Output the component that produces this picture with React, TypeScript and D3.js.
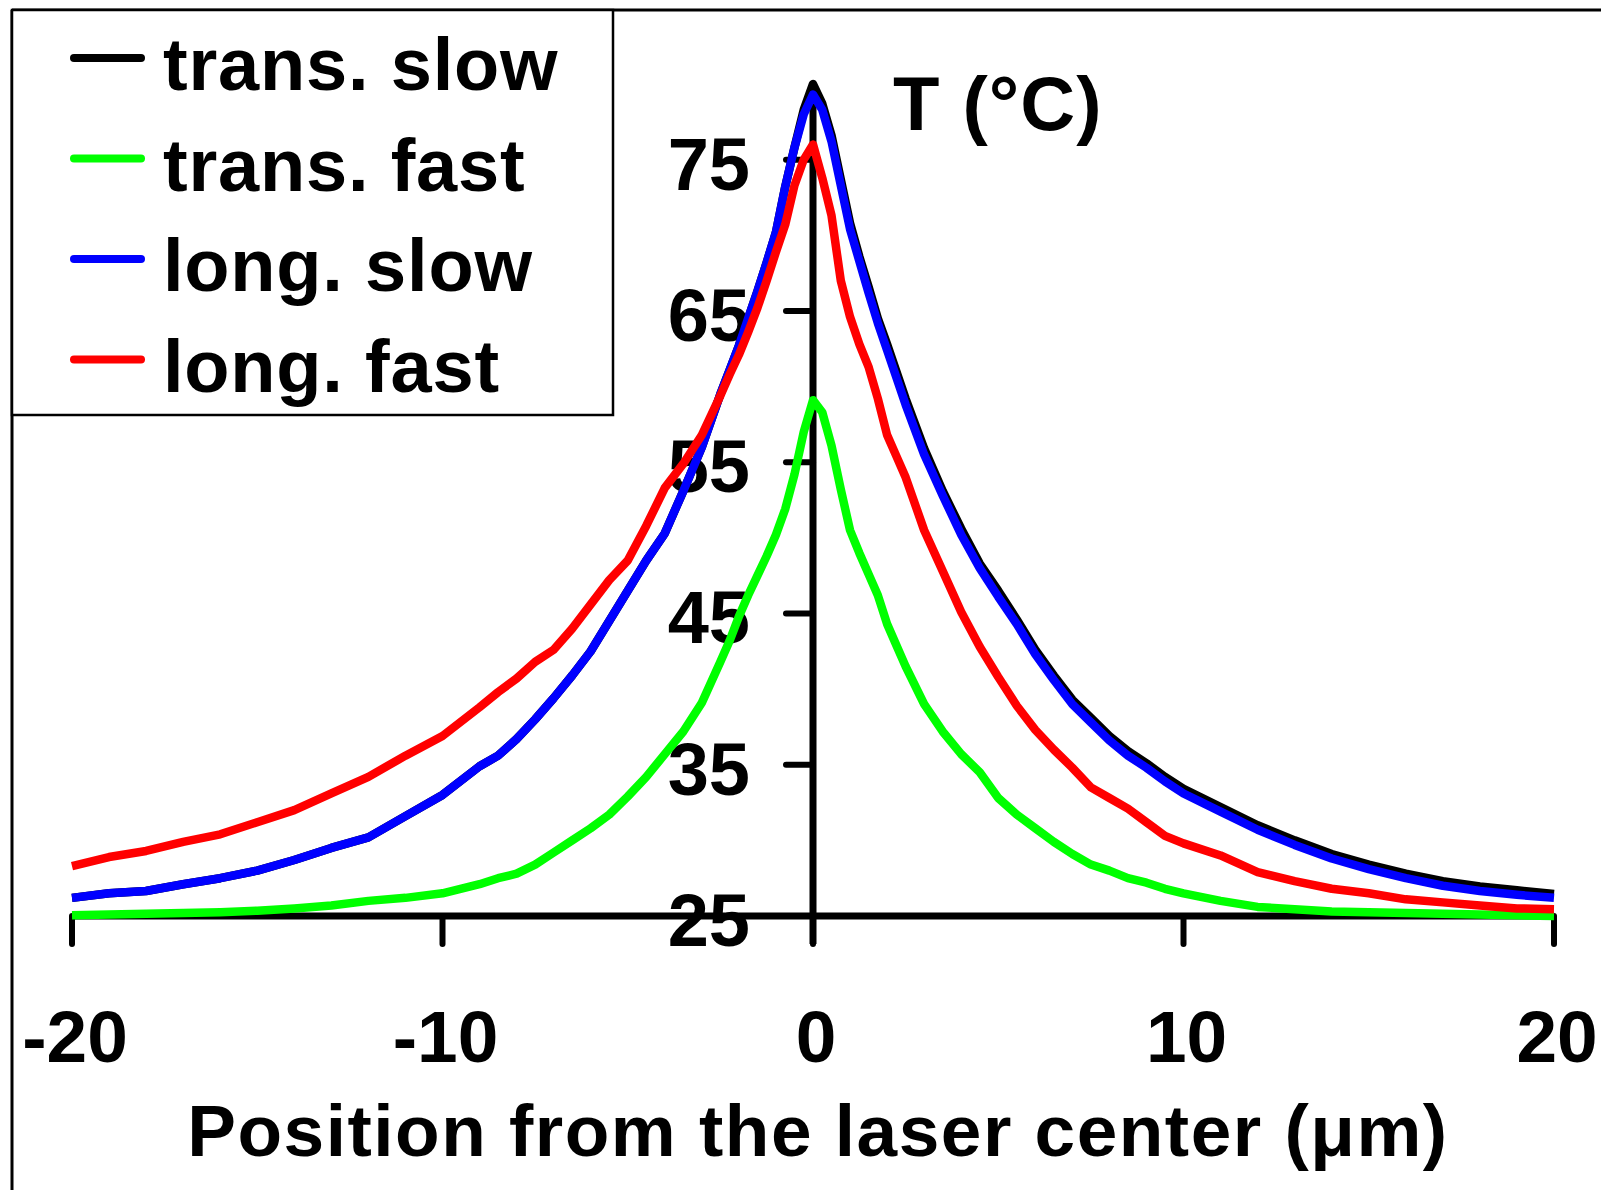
import React, { useEffect, useRef } from "react";
import * as d3 from "d3";

// positions in µm
const positions = [
  -20, -19, -18, -17, -16, -15, -14, -13, -12, -11, -10, -9, -8.5, -8, -7.5, -7, -6.5, -6, -5.5, -5, -4.5, -4, -3.5, -3,
  -2.5, -2.25, -2, -1.75, -1.5, -1.25, -1, -0.75, -0.5, -0.25,
  0, 0.25, 0.5, 0.75, 1, 1.25, 1.5, 1.75, 2, 2.25, 2.5, 3, 3.5, 4, 4.5, 5, 5.5, 6, 6.5, 7, 7.5, 8, 8.5, 9, 9.5, 10,
  11, 12, 13, 14, 15, 16, 17, 18, 19, 20,
];

const transSlow = [
  26.2, 26.5, 26.65, 27.1, 27.5, 28.0, 28.7, 29.5, 30.2, 31.6, 33.0, 34.9, 35.6, 36.7, 38.0, 39.4, 40.9, 42.5, 44.5, 46.5, 48.5, 50.3, 53.1, 56.0,
  59.5, 61.1, 62.7, 64.5, 66.3, 68.2, 70.2, 73.2, 75.8, 78.3,
  80.0, 78.7, 76.6, 73.7, 70.8, 68.6, 66.6, 64.5, 62.8, 61.0, 59.2, 55.9, 53.1, 50.6, 48.3, 46.5, 44.6, 42.6, 40.9, 39.3, 38.1, 36.9, 35.9, 35.1, 34.2, 33.4,
  32.2, 31.0, 30.0, 29.1, 28.4, 27.8, 27.3, 26.95, 26.7, 26.45,
];

const transFast = [
  25.05, 25.1, 25.15, 25.2, 25.25, 25.35, 25.5, 25.7, 26.0, 26.2, 26.5, 27.1, 27.5, 27.8, 28.4, 29.2, 30.0, 30.8, 31.7, 32.9, 34.2, 35.7, 37.2, 39.1,
  41.8, 43.2, 44.8, 46.2, 47.5, 48.8, 50.2, 51.9, 54.2, 57.0,
  59.1, 58.3, 56.1, 53.2, 50.5, 49.0, 47.6, 46.2, 44.3, 42.9, 41.5, 39.0, 37.2, 35.7, 34.5, 32.8, 31.7, 30.8, 29.9, 29.1, 28.4, 28.0, 27.5, 27.2, 26.8, 26.5,
  26.0, 25.6, 25.45, 25.3, 25.25, 25.2, 25.15, 25.1, 25.05, 25.0,
];

const longSlow = [
  26.2, 26.5, 26.65, 27.1, 27.5, 28.0, 28.7, 29.5, 30.2, 31.6, 33.0, 34.9, 35.6, 36.7, 38.0, 39.4, 40.9, 42.5, 44.5, 46.5, 48.5, 50.3, 53.1, 56.0,
  59.5, 61.1, 62.7, 64.5, 66.3, 68.2, 70.2, 73.2, 75.8, 78.0,
  79.3, 78.3, 76.2, 73.3, 70.4, 68.3, 66.2, 64.2, 62.4, 60.6, 58.8, 55.5, 52.8, 50.2, 48.0, 46.1, 44.3, 42.3, 40.6, 39.0, 37.8, 36.6, 35.6, 34.8, 33.9, 33.1,
  31.9, 30.7, 29.7, 28.8, 28.1, 27.5, 27.0, 26.65, 26.4, 26.2,
];

const longFast = [
  28.3, 28.9, 29.3, 29.9, 30.4, 31.2, 32.0, 33.1, 34.2, 35.6, 36.9, 38.8, 39.8, 40.7, 41.8, 42.6, 44.0, 45.6, 47.2, 48.5, 50.8, 53.3, 54.9, 56.8,
  59.4, 60.8, 62.1, 63.6, 65.2, 67.0, 68.9, 70.7, 73.3, 75.0,
  76.0, 73.8, 71.3, 67.0, 64.6, 62.8, 61.3, 59.2, 56.8, 55.4, 54.0, 50.5, 47.8, 45.1, 42.8, 40.8, 38.9, 37.3, 36.0, 34.8, 33.5, 32.8, 32.1, 31.2, 30.3, 29.8,
  29.0, 27.9, 27.3, 26.8, 26.5, 26.1, 25.9, 25.7, 25.5, 25.45,
];

const seriesNames = ["trans. slow", "trans. fast", "long. slow", "long. fast"];
const seriesColors = ["#000000", "#00ff00", "#0000ff", "#ff0000"];
const seriesValues = [transSlow, transFast, longSlow, longFast];

const xTicks = [-20, -10, 0, 10, 20];
const yTicks = [25, 35, 45, 55, 65, 75];

const App = () => {
  const chartRef = useRef<SVGSVGElement | null>(null);

  useEffect(() => {
    drawChart();
  }, []);

  const drawChart = () => {
    const width = 1601,
      height = 1190;
    const font = "'Liberation Sans', Arial, sans-serif";

    const svg = d3.select(chartRef.current);
    svg.selectAll("*").remove();
    svg.attr("width", width).attr("height", height);

    svg.append("rect").attr("width", width).attr("height", height).attr("fill", "#fff");

    const x = d3.scaleLinear().domain([-20, 20]).range([72, 1554]);
    const y = d3.scaleLinear().domain([25, 80]).range([916, 84]);

    // outer frame (top and left only)
    svg.append("line")
      .attr("x1", 12).attr("x2", width).attr("y1", 10).attr("y2", 10)
      .attr("stroke", "#000").attr("stroke-width", 3);
    svg.append("line")
      .attr("x1", 12).attr("x2", 12).attr("y1", 10).attr("y2", height)
      .attr("stroke", "#000").attr("stroke-width", 3);

    // x axis
    const xAxis = svg.append("g");
    xAxis.append("line")
      .attr("x1", x(-20)).attr("x2", x(20)).attr("y1", y(25)).attr("y2", y(25))
      .attr("stroke", "#000").attr("stroke-width", 7);
    xAxis.selectAll(".xtick")
      .data(xTicks)
      .join("line")
      .attr("x1", d => x(d)).attr("x2", d => x(d))
      .attr("y1", y(25)).attr("y2", y(25) + 28)
      .attr("stroke", "#000").attr("stroke-width", 6).attr("stroke-linecap", "round");
    xAxis.selectAll(".xlabel")
      .data(xTicks)
      .join("text")
      .attr("x", d => x(d) + 3)
      .attr("y", 1062)
      .attr("text-anchor", "middle")
      .style("font-family", font)
      .style("font-weight", "bold")
      .style("font-size", "73px")
      .text(d => String(d));

    // y axis through x = 0
    const yAxis = svg.append("g");
    yAxis.append("line")
      .attr("x1", x(0)).attr("x2", x(0)).attr("y1", y(25) + 28).attr("y2", y(80))
      .attr("stroke", "#000").attr("stroke-width", 7);
    yAxis.selectAll(".ytick")
      .data(yTicks)
      .join("line")
      .attr("x1", x(0) - 27).attr("x2", x(0))
      .attr("y1", d => y(d)).attr("y2", d => y(d))
      .attr("stroke", "#000").attr("stroke-width", 6).attr("stroke-linecap", "round");
    yAxis.selectAll(".ylabel")
      .data(yTicks)
      .join("text")
      .attr("x", 750)
      .attr("y", d => y(d) + 30)
      .attr("text-anchor", "end")
      .style("font-family", font)
      .style("font-weight", "bold")
      .style("font-size", "74px")
      .text(d => String(d));

    svg.append("text")
      .attr("x", 893)
      .attr("y", 130)
      .style("font-family", font)
      .style("font-weight", "bold")
      .style("font-size", "76px")
      .style("letter-spacing", "1px")
      .text("T (°C)");

    svg.append("text")
      .attr("x", 818)
      .attr("y", 1156)
      .attr("text-anchor", "middle")
      .style("font-family", font)
      .style("font-weight", "bold")
      .style("font-size", "73px")
      .style("letter-spacing", "1.5px")
      .text("Position from the laser center (μm)");

    // curves
    const line = d3.line<[number, number]>()
      .x(d => x(d[0]))
      .y(d => y(d[1]));

    seriesValues.forEach((vals, i) => {
      const pts: [number, number][] = positions.map((p, j) => [p, vals[j]]);
      svg.append("path")
        .datum(pts)
        .attr("d", line)
        .attr("fill", "none")
        .attr("stroke", seriesColors[i])
        .attr("stroke-width", 8.5)
        .attr("stroke-linejoin", "round");
    });

    // legend
    const legend = svg.append("g");
    legend.append("rect")
      .attr("x", 12).attr("y", 10).attr("width", 601).attr("height", 405)
      .attr("fill", "#fff").attr("stroke", "#000").attr("stroke-width", 2.5);
    seriesNames.forEach((name, i) => {
      const base = 90 + i * 100.5;
      legend.append("line")
        .attr("x1", 74).attr("x2", 141)
        .attr("y1", base - 32).attr("y2", base - 32)
        .attr("stroke", seriesColors[i]).attr("stroke-width", 8).attr("stroke-linecap", "round");
      legend.append("text")
        .attr("x", 163)
        .attr("y", base)
        .style("font-family", font)
        .style("font-weight", "bold")
        .style("font-size", "74px")
        .style("letter-spacing", "0.8px")
        .text(name);
    });
  };

  return (
    <svg ref={chartRef} style={{ position: "absolute", left: 0, top: 0, display: "block" }} />
  );
};

export default App;
